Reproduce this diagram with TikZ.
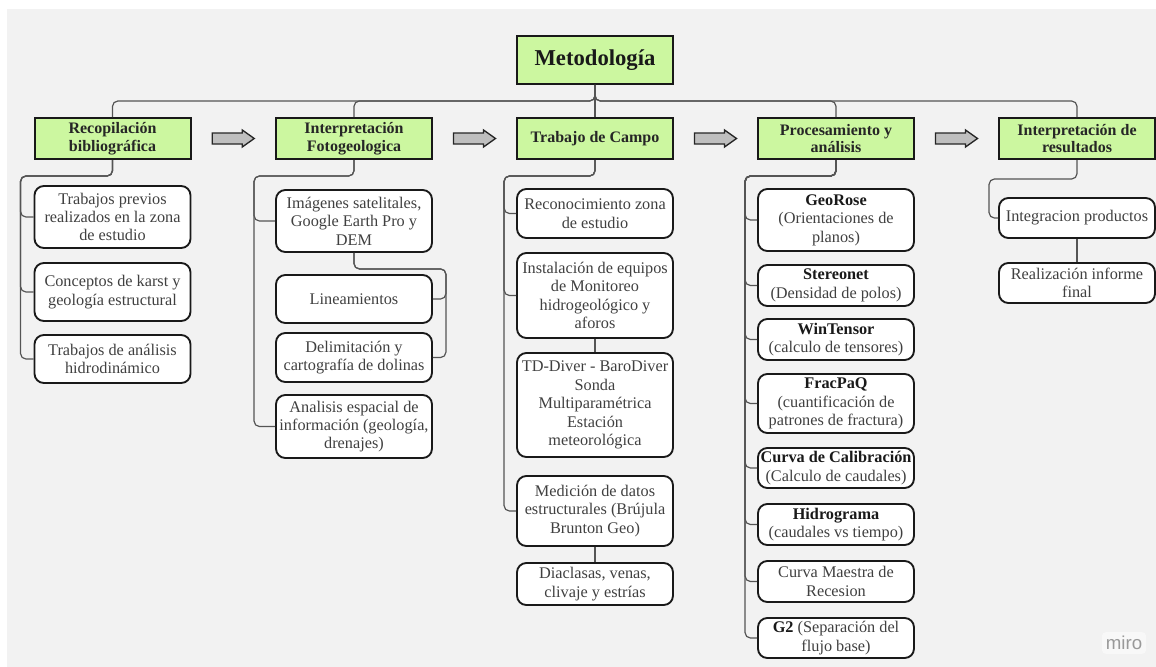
\documentclass[tikz,border=0pt]{standalone}
\usepackage{fontspec}
\setmainfont{Liberation Serif}
\newfontfamily\logofont{Liberation Sans}
\usetikzlibrary{calc}

\definecolor{canvas}{HTML}{F2F2F2}
\definecolor{phasegreen}{HTML}{CCF7A0}
\definecolor{linkgray}{HTML}{555555}
\definecolor{itemtext}{HTML}{404040}
\newcommand\toolname[1]{\textcolor{black!90}{\textbf{#1}}}

\begin{document}
\begin{tikzpicture}[x=0.75pt,y=-0.75pt,
  titlebox/.style={draw=black!90,line width=1.5pt,fill=phasegreen,minimum width=117pt,minimum height=36pt,font=\bfseries\fontsize{17}{20}\selectfont,text=black!90},
  phase/.style={draw=black!90,line width=1.5pt,fill=phasegreen,minimum width=117pt,minimum height=30.75pt,inner sep=1pt,align=center,font=\bfseries\fontsize{12}{13.3}\selectfont,text=black!85},
  item/.style={draw=black!90,line width=1.4pt,fill=white,rounded corners=7pt,minimum width=117pt,inner xsep=1pt,inner ysep=1pt,align=center,font=\fontsize{12.2}{13.8}\selectfont,text=itemtext},
  link/.style={draw=linkgray,line width=0.9pt,rounded corners=4pt},
  flow/.style={draw=black!85,line width=1pt,fill=black!25},
]

\useasboundingbox (0,0) rectangle (1156,667);
\fill[canvas] (7,9) rectangle (1156,667);

% title and phases
\node[titlebox] (title) at (595,60) {Metodología};

\node[phase] (rec)   at (112.5,138.5) {Recopilación\\bibliográfica};
\node[phase] (foto)  at (354,138.5)   {Interpretación\\Fotogeologica};
\node[phase] (campo) at (595,138.5)   {Trabajo de Campo};
\node[phase] (proc)  at (836,138.5)   {Procesamiento y\\análisis};
\node[phase] (res)   at (1077,138.5)  {Interpretación de\\resultados};

% recopilacion
\node[item,minimum height=46.5pt] (r1) at (112.5,217) {Trabajos previos\\realizados en la zona\\de estudio};
\node[item,minimum height=43.5pt] (r2) at (112.5,292) {Conceptos de karst y\\geología estructural};
\node[item,minimum height=36pt]   (r3) at (112.5,359) {Trabajos de análisis\\hidrodinámico};

% fotogeologia
\node[item,minimum height=46.5pt]  (f1) at (354,221)   {Imágenes satelitales,\\Google Earth Pro y\\DEM};
\node[item,minimum height=36pt]    (f2) at (354,299)   {Lineamientos};
\node[item,minimum height=36.75pt] (f3) at (354,357.5) {Delimitación y\\cartografía de dolinas};
\node[item,minimum height=47.25pt] (f4) at (354,426.5) {Analisis espacial de\\información (geología,\\drenajes)};

% campo
\node[item,minimum height=36.75pt] (c1) at (595,213.5) {Reconocimiento zona\\de estudio};
\node[item,minimum height=63.75pt] (c2) at (595,295.5) {Instalación de equipos\\de Monitoreo\\hidrogeológico y\\aforos};
\node[item,minimum height=78pt]    (c3) at (595,405)   {TD-Diver - BaroDiver\\Sonda\\Multiparamétrica\\Estación\\meteorológica};
\node[item,minimum height=52.5pt]  (c4) at (595,511)   {Medición de datos\\estructurales (Brújula\\Brunton Geo)};
\node[item,minimum height=31.5pt]  (c5) at (595,584)   {Diaclasas, venas,\\clivaje y estrías};

% procesamiento
\node[item,minimum height=46.5pt]  (p1) at (836,220)   {\toolname{GeoRose}\\(Orientaciones de\\planos)};
\node[item,minimum height=30.75pt] (p2) at (836,285.5) {\toolname{Stereonet}\\(Densidad de polos)};
\node[item,minimum height=30.75pt] (p3) at (836,339.5) {\toolname{WinTensor}\\(calculo de tensores)};
\node[item,minimum height=44.25pt] (p4) at (836,403.5) {\toolname{FracPaQ}\\(cuantificación de\\patrones de fractura)};
\node[item,minimum height=30pt]    (p5) at (836,468)   {\toolname{Curva de Calibración}\\(Calculo de caudales)};
\node[item,minimum height=30.75pt] (p6) at (836,524.5) {\toolname{Hidrograma}\\(caudales vs tiempo)};
\node[item,minimum height=30.75pt] (p7) at (836,581.5) {Curva Maestra de\\Recesion};
\node[item,minimum height=30pt]    (p8) at (836,638)   {\toolname{G2} (Separación del\\flujo base)};

% resultados
\node[item,minimum height=30pt] (s1) at (1077,218) {Integracion productos};
\node[item,minimum height=30pt] (s2) at (1077,283) {Realización informe\\final};

% connectors
\foreach \p in {rec,foto,proc,res}
  \draw[link] (title.south) -- ++(0,16) -| (\p.north);
\draw[link] (title.south) -- (campo.north);

\foreach \c in {r1,r2,r3}
  \draw[link] (rec.south) -- ++(0,16) -| ([xshift=-9.75pt]\c.west) -- (\c.west);
\foreach \c in {f1,f4}
  \draw[link] (foto.south) -- ++(0,16) -| ([xshift=-15.75pt]\c.west) -- (\c.west);
\foreach \c in {f2,f3}
  \draw[link] (f1.south) -- ++(0,16) -| ([xshift=9.75pt]\c.east) -- (\c.east);
\foreach \c in {c1,c2,c4}
  \draw[link] (campo.south) -- ++(0,16) -| ([xshift=-9pt]\c.west) -- (\c.west);
\draw[link] (c2.south) -- (c3.north);
\draw[link] (c4.south) -- (c5.north);
\foreach \c in {p1,p2,p3,p4,p5,p6,p7,p8}
  \draw[link] (proc.south) -- ++(0,16) -| ([xshift=-9pt]\c.west) -- (\c.west);
\draw[link] (res.south) -- ++(0,19) -| ([xshift=-6.75pt]s1.west) -- (s1.west);
\draw[link] (s1.south) -- (s2.north);

% block arrows between phases
\foreach \a/\b in {rec/foto,foto/campo,campo/proc,proc/res}
  \draw[flow,shift={($(\a.east)!.5!(\b.west)$)}] (-21,-5.5) -- (9,-5.5) -- (9,-8.5) -- (21,0) -- (9,8.5) -- (9,5.5) -- (-21,5.5) -- cycle;

\node[fill=white!50!canvas,rounded corners=3pt,inner sep=3pt,text=black!40,font=\logofont\fontsize{14}{14}\selectfont] (miro) at (1124,643) {miro};

\end{tikzpicture}
\end{document}
